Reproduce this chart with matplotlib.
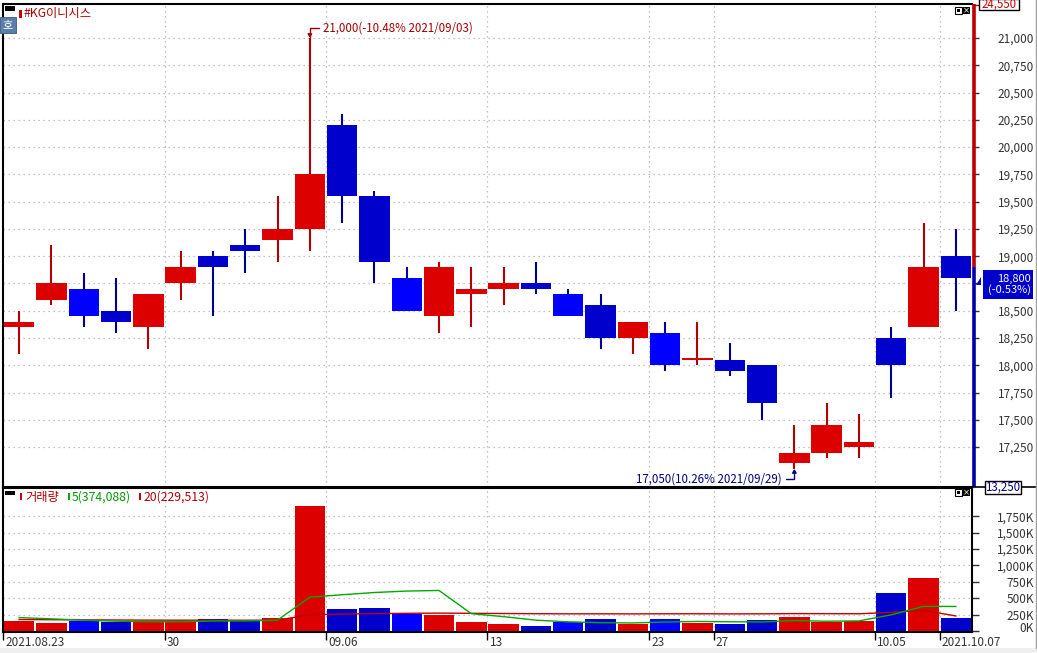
import matplotlib
matplotlib.use('Agg')
import matplotlib.pyplot as plt
import matplotlib.transforms as mtransforms
from matplotlib.patches import Rectangle, Polygon
import numpy as np

plt.rcParams['font.family'] = ['Noto Sans CJK KR', 'DejaVu Sans']

# ---------------- data ----------------
dates = ['2021-08-23', '2021-08-24', '2021-08-25', '2021-08-26', '2021-08-27',
         '2021-08-30', '2021-08-31', '2021-09-01', '2021-09-02', '2021-09-03',
         '2021-09-06', '2021-09-07', '2021-09-08', '2021-09-09', '2021-09-10',
         '2021-09-13', '2021-09-14', '2021-09-15', '2021-09-16', '2021-09-17',
         '2021-09-23', '2021-09-24', '2021-09-27', '2021-09-28', '2021-09-29',
         '2021-09-30', '2021-10-01', '2021-10-05', '2021-10-06', '2021-10-07']
opens = [18350, 18600, 18700, 18500, 18350, 18750, 19000, 19100, 19150, 19250,
         20200, 19550, 18800, 18450, 18650, 18700, 18750, 18650, 18550, 18250,
         18300, 18050, 18050, 18000, 17100, 17200, 17250, 18250, 18350, 19000]
highs = [18500, 19100, 18850, 18800, 18650, 19050, 19050, 19250, 19550, 21000,
         20300, 19600, 18900, 18950, 18900, 18900, 18950, 18700, 18650, 18400,
         18400, 18400, 18200, 18000, 17450, 17650, 17550, 18350, 19300, 19250]
lows = [18100, 18550, 18350, 18300, 18150, 18600, 18450, 18850, 18950, 19050,
        19300, 18750, 18500, 18300, 18350, 18550, 18650, 18450, 18150, 18100,
        17950, 18000, 17900, 17500, 17050, 17150, 17150, 17700, 18350, 18500]
closes = [18400, 18750, 18450, 18400, 18650, 18900, 18900, 19050, 19250, 19750,
          19550, 18950, 18500, 18900, 18700, 18750, 18700, 18450, 18250, 18400,
          18000, 18050, 17950, 17650, 17200, 17450, 17300, 18000, 18900, 18800]
volumes = [150000, 120000, 150000, 135000, 150000, 150000, 180000, 150000, 200000, 1900000,
           335000, 350000, 260000, 245000, 130000, 110000, 80000, 135000, 180000, 110000,
           180000, 125000, 110000, 165000, 215000, 130000, 150000, 575000, 810000, 200000]
ma5 = [205000, 185000, 165000, 150000, 141000, 141000, 153000, 153000, 166000, 516000,
       553000, 587000, 609000, 618000, 264000, 219000, 165000, 140000, 127000, 123000,
       137000, 146000, 141000, 138000, 159000, 149000, 154000, 247000, 376000, 374088]
ma20 = [175000, 172000, 170000, 168000, 166000, 165000, 165000, 164000, 165000, 250000,
        258000, 265000, 270000, 273000, 270000, 267000, 264000, 262000, 262000, 261000,
        262500, 263000, 261000, 262000, 265500, 264500, 263000, 284000, 315000, 229513]
price_ticks = list(range(17250, 21001, 250))
vol_ticks = list(range(0, 1750001, 250000))
date_label_idx = [0, 5, 10, 15, 20, 22, 27, 29]
date_label_txt = ['2021.08.23', '30', '09.06', '13', '23', '27', '10.05', '2021.10.07']
title = '#KG이니시스'
hi_note = '21,000(-10.48% 2021/09/03)'
lo_note = '17,050(10.26% 2021/09/29)'
prev_close = 18900
upper_limit = '24,550'
lower_limit = '13,250'
cur_price = '18,800'
cur_change = '(-0.53%)'

# ---------------- figure ----------------
W, H = 1037, 653
fig = plt.figure(figsize=(W / 100, H / 100), dpi=100)
fig.patch.set_facecolor('white')


def rect(x0, y0, x1, y1):
    return [x0 / W, 1 - y1 / H, (x1 - x0) / W, (y1 - y0) / H]


def ftext(x, y, s, **kw):
    kw.setdefault('zorder', 20)
    return fig.text(x / W, 1 - y / H, s, **kw)


def fpatch(x0, y0, x1, y1, zorder=10, **kw):
    p = Rectangle((x0 / W, 1 - y1 / H), (x1 - x0) / W, (y1 - y0) / H,
                  transform=fig.transFigure, zorder=zorder, **kw)
    fig.add_artist(p)
    return p


def fline(xs, ys, zorder=5, **kw):
    fig.add_artist(plt.Line2D([x / W for x in xs], [1 - y / H for y in ys],
                              transform=fig.transFigure, zorder=zorder, **kw))


RED = '#DD0000'
RED_W = '#B00000'
BLUE_D = '#0000CC'
BLUE_B = '#0000FF'
BLUE_W = '#00008C'
GRID = '#B0B0B0'
TXT = '#333333'

n = len(opens)
x = np.arange(n)
body_col, wick_col = [], []
for i in range(n):
    if closes[i] >= opens[i]:
        body_col.append(RED)
        wick_col.append(RED_W)
    else:
        bright = i > 0 and opens[i] < closes[i - 1]
        body_col.append(BLUE_B if bright else BLUE_D)
        wick_col.append(BLUE_W)

# ---------------- price panel ----------------
axp = fig.add_axes(rect(3, 4, 972, 487))
axp.set_xlim(-0.5, n - 0.5)
axp.set_ylim(16884, 21312)
bottoms = [min(o, c) for o, c in zip(opens, closes)]
heights = [max(abs(c - o), 18) for o, c in zip(opens, closes)]
axp.vlines(x, lows, highs, colors=wick_col, linewidth=1.5, zorder=2)
axp.bar(x, heights, bottom=bottoms, width=0.94, color=body_col, linewidth=0, zorder=3)

axp.set_xticks([])
axp.yaxis.tick_right()
axp.set_yticks(price_ticks)
# the label under the current-price box is hidden, as in the reference
axp.set_yticklabels(['' if abs(v - closes[-1]) < 125 else f'{v:,}' for v in price_ticks])
axp.tick_params(axis='y', length=5, width=1, color=TXT, labelsize=8.5,
                labelcolor=TXT, pad=39.6)
for lb in axp.get_yticklabels():
    lb.set_horizontalalignment('right')
axp.yaxis.grid(True, linestyle=(0, (1, 3)), color=GRID, linewidth=0.9)
for i in date_label_idx[1:]:
    axp.axvline(i - 0.5, linestyle=(0, (1, 3)), color=GRID, linewidth=0.9, zorder=0)
for s in ['left', 'top', 'bottom']:
    axp.spines[s].set_color('black')
    axp.spines[s].set_linewidth(1.5)
axp.spines['right'].set_visible(False)
axp.set_axisbelow(True)

# coloured price-range bar on the right axis
bt = mtransforms.blended_transform_factory(axp.transAxes, axp.transData)
axp.plot([1.0016, 1.0016], [prev_close, 21312], transform=bt, color='#C00000',
         lw=2.6, clip_on=False, solid_capstyle='butt', zorder=5)
axp.plot([1.0016, 1.0016], [16884, prev_close], transform=bt, color='#0000AA',
         lw=2.6, clip_on=False, solid_capstyle='butt', zorder=5)

# high / low annotations
i_hi = int(np.argmax(highs))
i_lo = int(np.argmin(lows))
axp.annotate(hi_note, xy=(x[i_hi], highs[i_hi]), xytext=(13, 10),
             textcoords='offset pixels', ha='left', va='center', fontsize=8.3,
             color='#A00000',
             arrowprops=dict(arrowstyle='-|>,head_length=0.25,head_width=0.15',
                             color='#A00000', lw=1.0, shrinkA=1, shrinkB=0,
                             relpos=(0, 0.5),
                             connectionstyle='angle,angleA=0,angleB=90,rad=0'))
axp.annotate(lo_note, xy=(x[i_lo], lows[i_lo]), xytext=(-13, -10),
             textcoords='offset pixels', ha='right', va='center', fontsize=8.3,
             color='#000080',
             arrowprops=dict(arrowstyle='-|>,head_length=0.25,head_width=0.15',
                             color='#000080', lw=1.0, shrinkA=1, shrinkB=0,
                             relpos=(1, 0.5),
                             connectionstyle='angle,angleA=0,angleB=90,rad=0'))

# ---------------- volume panel ----------------
axv = fig.add_axes(rect(3, 488, 972, 632))
axv.set_xlim(-0.5, n - 0.5)
axv.set_ylim(-15000, 2180000)
axv.bar(x, volumes, width=0.94, color=body_col, linewidth=0, zorder=2)
axv.plot(x, ma20, color='#C00000', lw=1.0, zorder=3)
axv.plot(x, ma5, color='#00AA00', lw=1.0, zorder=4)
axv.yaxis.tick_right()
axv.set_yticks(vol_ticks)
axv.set_yticklabels([f'{v // 1000:,}K' for v in vol_ticks])
axv.tick_params(axis='y', length=5, width=1, color=TXT, labelsize=8.5,
                labelcolor=TXT, pad=39.6)
for lb in axv.get_yticklabels():
    lb.set_horizontalalignment('right')
zero_off = mtransforms.ScaledTranslation(0, 4 / 100, fig.dpi_scale_trans)
axv.get_yticklabels()[0].set_transform(axv.get_yticklabels()[0].get_transform() + zero_off)
axv.yaxis.grid(True, linestyle=(0, (1, 3)), color=GRID, linewidth=0.9)
for i in date_label_idx[1:]:
    axv.axvline(i - 0.5, linestyle=(0, (1, 3)), color=GRID, linewidth=0.9, zorder=0)
axv.set_xticks([i - 0.5 for i in date_label_idx])
axv.set_xticklabels(date_label_txt)
axv.tick_params(axis='x', length=6, width=1, color='black', labelsize=8.5,
                labelcolor=TXT, pad=-3)
off = mtransforms.ScaledTranslation(2 / 100, 0, fig.dpi_scale_trans)
for lb in axv.get_xticklabels():
    lb.set_horizontalalignment('left')
    lb.set_transform(lb.get_transform() + off)
for s in ['left', 'top', 'bottom', 'right']:
    axv.spines[s].set_color('black')
    axv.spines[s].set_linewidth(1.5)
axv.set_axisbelow(True)

# ---------------- decorations ----------------
# price panel header
fpatch(5, 6, 15, 11, facecolor='black', linewidth=0)
fpatch(19, 10, 22, 18, facecolor='#CC0000', linewidth=0)
ftext(24, 14, title, fontsize=8.8, color='#B00000', va='center', ha='left')
fpatch(0, 17, 16, 33, facecolor='#5B7FA8', edgecolor='#3A5A80', linewidth=0.6)
ftext(8, 25, '호', fontsize=8, color='white', va='center', ha='center')

# volume header
fpatch(5, 491, 15, 495, facecolor='black', linewidth=0)
fpatch(20, 493, 22, 500, facecolor='#CC0000', linewidth=0)
ftext(25, 497, '거래량', fontsize=8.8, color='#B00000', va='center', ha='left')
fpatch(68, 493, 70, 500, facecolor='#00AA00', linewidth=0)
ftext(72, 497, '5(374,088)', fontsize=8.8, color='#009900', va='center', ha='left')
fpatch(139, 493, 141, 500, facecolor='#CC0000', linewidth=0)
ftext(144, 497, '20(229,513)', fontsize=8.8, color='#B00000', va='center', ha='left')

# panel window icons
for yy in (7, 489):
    fpatch(955, yy, 962, yy + 7, facecolor='white', edgecolor='black', linewidth=0.8)
    fpatch(957, yy + 2, 960, yy + 5, facecolor='black', linewidth=0)
    fpatch(963, yy, 970, yy + 7, facecolor='black', linewidth=0)
    ftext(966.5, yy + 3.5, '×', fontsize=6, color='white', ha='center', va='center',
          family='DejaVu Sans')

# upper / lower limit boxes
fline([975, 980], [5, 5], color='#C00000', lw=1)
fpatch(979, -1, 1019, 10, facecolor='white', edgecolor='black', linewidth=1)
ftext(999, 4.5, upper_limit, fontsize=8.3, color='#CC0000', ha='center', va='center')
fline([972, 1037], [487, 487], color='black', lw=1.2)
fpatch(985, 481, 1021, 494, facecolor='white', edgecolor='black', linewidth=1)
ftext(1003, 487.5, lower_limit, fontsize=8.3, color='#000080', ha='center', va='center')

# current price marker
fig.add_artist(Polygon([(976 / W, 1 - 285 / H), (981 / W, 1 - 285 / H), (981 / W, 1 - 277 / H)],
                       closed=True, transform=fig.transFigure, facecolor='#0000CC',
                       edgecolor='none', zorder=10))
fpatch(983, 270, 1033, 299, facecolor='#0000CC', linewidth=0)
ftext(1031, 284.5, cur_price + '\n' + cur_change, fontsize=8.0, color='white',
      ha='right', va='center', multialignment='right', linespacing=1.0)

# right border and bottom band
fline([1036, 1036], [0, 648], color='#A0A0A0', lw=1)
fpatch(0, 648, W, H, facecolor='#EFEFEF', linewidth=0, zorder=0)

fig.savefig('out.png', dpi=100, facecolor='white')
